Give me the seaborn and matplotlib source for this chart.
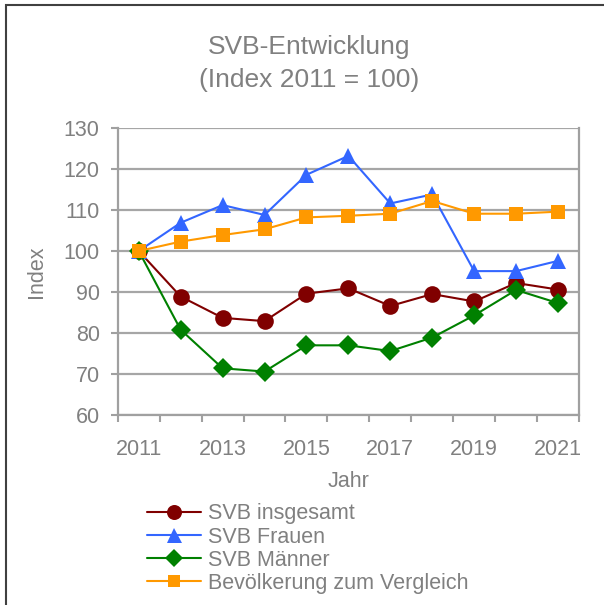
import numpy as np
import pandas as pd
import matplotlib
matplotlib.use("Agg")
import matplotlib.pyplot as plt
import seaborn as sns
from matplotlib.patches import Rectangle

# data
years = [2011, 2012, 2013, 2014, 2015, 2016, 2017, 2018, 2019, 2020, 2021]
svb_total = [100, 88.9, 83.7, 82.9, 89.6, 90.9, 86.6, 89.5, 87.7, 92.2, 90.6]
svb_women = [100, 106.9, 111.2, 108.8, 118.6, 123.2, 111.6, 113.8, 95.1, 95.1, 97.6]
svb_men = [100, 80.8, 71.4, 70.6, 77.0, 77.0, 75.6, 78.9, 84.3, 90.5, 87.3]
population = [100, 102.3, 103.9, 105.3, 108.2, 108.6, 109.1, 112.2, 109.1, 109.1, 109.6]

series_names = ["SVB insgesamt", "SVB Frauen", "SVB Männer", "Bevölkerung zum Vergleich"]
series_values = [svb_total, svb_women, svb_men, population]
colors = ["#800000", "#3366FF", "#008000", "#FF9900"]
markers = ["o", "^", "D", "s"]
msizes = [12, 12, 10, 10]

df = pd.DataFrame({"Jahr": years})
for name, vals in zip(series_names, series_values):
    df[name] = vals

sns.set_style("white")
plt.rcParams["font.family"] = ["Liberation Sans", "DejaVu Sans"]
grey = "#808080"
fs = 15.5

fig = plt.figure(figsize=(6.04, 6.05), dpi=100)
ax = fig.add_axes([0.195, 0.314, 0.7636, 0.4744])

for name, c, m, ms in zip(series_names, colors, markers, msizes):
    sns.lineplot(data=df, x="Jahr", y=name, ax=ax, color=c, marker=m,
                 markersize=ms, markeredgewidth=0, linewidth=1.5, label=name)

ax.set_ylim(60, 130)
ax.set_yticks(np.arange(60, 131, 10))
ax.yaxis.grid(True, color="#a6a6a6", linewidth=1.6)
ax.set_axisbelow(True)

ax.set_xlim(years[0] - 0.5, years[-1] + 0.5)
ax.set_xticks(np.arange(years[0] - 0.5, years[-1] + 0.6, 1))
ax.set_xticklabels([])
ax.set_xticks(years[::2], minor=True)
ax.set_xticklabels([str(y) for y in years[::2]], minor=True)
ax.tick_params(axis="x", which="major", length=5, width=1.5, color="#a0a0a0", direction="out", bottom=True)
ax.tick_params(axis="x", which="minor", length=0, pad=17, labelsize=fs, labelcolor=grey, bottom=True)
ax.tick_params(axis="y", length=5, width=1.5, color="#a0a0a0", direction="out", left=True,
               labelsize=fs, labelcolor=grey, pad=8)

for side in ["left", "bottom", "right"]:
    ax.spines[side].set_color("#a0a0a0")
    ax.spines[side].set_linewidth(1.6)
ax.spines["top"].set_visible(False)

ax.set_xlabel("Jahr", fontsize=fs, color=grey, labelpad=8)
ax.set_ylabel("Index", fontsize=fs, color=grey, labelpad=12)

fig.text(0.512, 0.895, "SVB-Entwicklung\n(Index 2011 = 100)", ha="center", va="center",
         fontsize=19, color=grey, linespacing=1.45)

handles, labels = ax.get_legend_handles_labels()
ax.get_legend().remove()
leg = fig.legend(handles, labels, loc="upper left", bbox_to_anchor=(0.243, 0.168),
                 frameon=False, fontsize=fs, labelcolor=grey, handlelength=2.5,
                 handletextpad=0.35, labelspacing=0.1, borderaxespad=0, borderpad=0,
                 markerscale=0.9)

fig.patches.append(Rectangle((6 / 604, -0.1), 1.2, 1 - 5 / 605 + 0.1, transform=fig.transFigure,
                             fill=False, edgecolor="#404040", linewidth=1.5))

fig.savefig("out.png", dpi=100)
